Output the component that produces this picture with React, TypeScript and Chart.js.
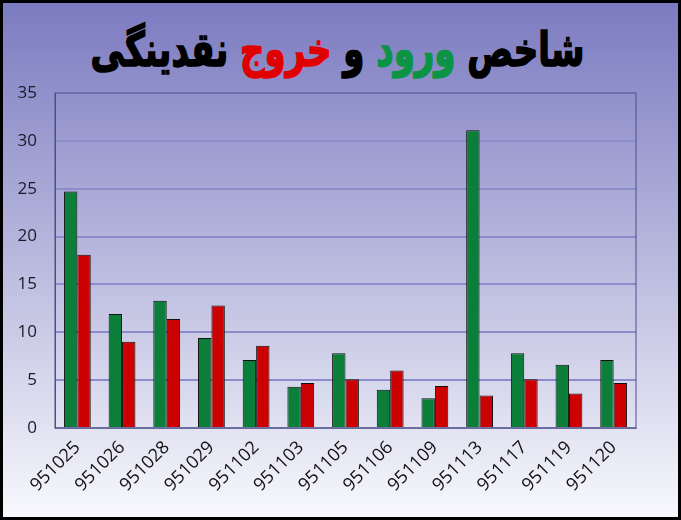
import { useEffect, useRef } from "react"
import { Chart, registerables } from "chart.js"

Chart.register(...registerables)

// dates (Persian calendar, yymmdd)
const days = ["951025", "951026", "951028", "951029", "951102", "951103", "951105", "951106", "951109", "951113", "951117", "951119", "951120"]
// money in (green) and money out (red)
const inflow = [24.7, 11.9, 13.3, 9.4, 7.1, 4.3, 7.8, 4.0, 3.1, 31.1, 7.8, 6.6, 7.1]
const outflow = [18.1, 9.0, 11.4, 12.8, 8.6, 4.7, 5.1, 6.0, 4.4, 3.4, 5.1, 3.6, 4.7]
const yTicks = [0, 5, 10, 15, 20, 25, 30, 35]

// frame around the plot area (top + right edges)
const frame = {
  id: "frame",
  afterDraw(chart: Chart) {
    const { ctx, chartArea } = chart
    ctx.save()
    ctx.strokeStyle = "#48508a"
    ctx.lineWidth = 1
    ctx.strokeRect(chartArea.left, chartArea.top, chartArea.right - chartArea.left, chartArea.bottom - chartArea.top)
    ctx.restore()
  },
}

export default function App() {
  const chartRef = useRef<HTMLCanvasElement>(null)
  const chartInstance = useRef<Chart | null>(null)

  useEffect(() => {
    document.body.style.margin = "0"
    if (!chartRef.current) return
    if (chartInstance.current) chartInstance.current.destroy()

    chartInstance.current = new Chart(chartRef.current, {
      type: "bar",
      data: {
        labels: days,
        datasets: [
          {
            label: "ورود",
            data: inflow,
            backgroundColor: "#0b7e3a",
            borderColor: "#111",
            borderWidth: 1,
          },
          {
            label: "خروج",
            data: outflow,
            backgroundColor: "#cc0000",
            borderColor: "#111",
            borderWidth: 1,
          },
        ],
      },
      options: {
        responsive: false,
        animation: false,
        layout: { padding: { top: 90, right: 42, left: 0, bottom: 0 } },
        datasets: { bar: { categoryPercentage: 0.6, barPercentage: 1 } },
        plugins: {
          legend: { display: false },
          tooltip: { enabled: false },
        },
        scales: {
          x: {
            grid: { display: false, drawTicks: false },
            border: { color: "#8a8a9a", width: 1 },
            afterFit(scale: any) {
              scale.height = 89
            },
            ticks: {
              minRotation: 45,
              maxRotation: 45,
              padding: 9,
              color: "#111",
              font: { family: "Open Sans", size: 18 },
            },
          },
          y: {
            min: 0,
            max: 35,
            afterBuildTicks(scale: any) {
              scale.ticks = yTicks.map((v) => ({ value: v }))
            },
            afterFit(scale: any) {
              scale.width = 52
            },
            grid: { color: "#8c8cca", lineWidth: 2, drawTicks: false },
            border: { color: "#48508a", width: 1 },
            ticks: {
              padding: 18,
              color: "#1a1a2a",
              font: { family: "Open Sans", size: 17 },
            },
          },
        },
      },
      plugins: [frame],
    })

    return () => {
      if (chartInstance.current) {
        chartInstance.current.destroy()
        chartInstance.current = null
      }
    }
  }, [])

  return (
    <div
      style={{
        position: "relative",
        width: 681,
        height: 520,
        boxSizing: "border-box",
        border: "3px solid #000",
        background: "linear-gradient(to bottom, #7b7bc1 0%, #b9b9de 50%, #f8f8fd 100%)",
        overflow: "hidden",
      }}
    >
      <div
        dir="rtl"
        style={{
          position: "absolute",
          left: 0,
          right: 6,
          top: 18,
          textAlign: "center",
          fontFamily: "'DejaVu Sans', sans-serif",
          fontWeight: "bold",
          fontSize: 34,
          color: "#000",
          lineHeight: "56px",
          transform: "scaleY(1.4)",
          WebkitTextStroke: "1.2px currentColor",
        }}
      >
        شاخص <span style={{ color: "#0a9444" }}>ورود</span> و <span style={{ color: "#e00000" }}>خروج</span> نقدینگی
      </div>
      <canvas ref={chartRef} width={675} height={514} style={{ position: "absolute", left: 0, top: 0 }}></canvas>
    </div>
  )
}
